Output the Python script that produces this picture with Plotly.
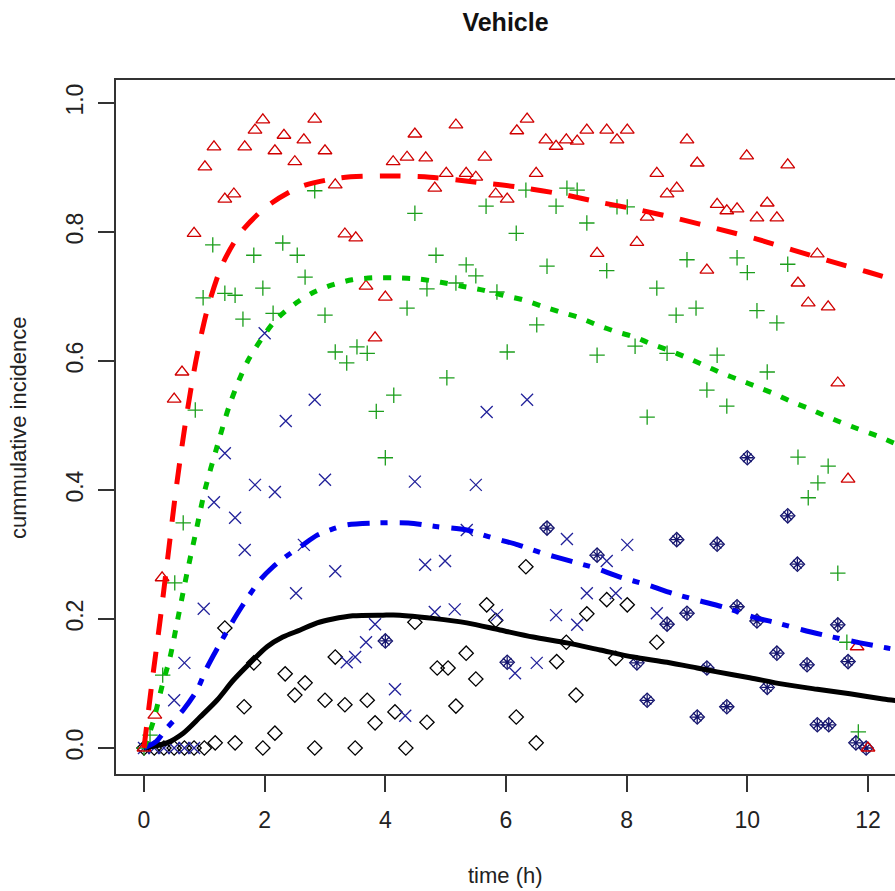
import plotly.graph_objects as go

# ---------------- data ----------------
red_t = [0.0, 0.18, 0.30, 0.50, 0.63, 0.83, 1.01, 1.16, 1.34, 1.49, 1.67, 1.84, 1.97,
         2.17, 2.32, 2.50, 2.65, 2.83, 3.00, 3.17, 3.33, 3.51, 3.68, 3.83, 4.00,
         4.13, 4.36, 4.49, 4.67, 4.82, 5.01, 5.17, 5.34, 5.50, 5.65, 5.83, 6.02,
         6.18, 6.35, 6.50, 6.66, 6.83, 7.00, 7.18, 7.34, 7.51, 7.67, 7.84, 8.01,
         8.17, 8.34, 8.50, 8.67, 8.83, 9.00, 9.17, 9.33, 9.50, 9.66, 9.83, 9.99,
         10.16, 10.33, 10.49, 10.67, 10.84, 11.01, 11.16, 11.34, 11.50, 11.67, 11.82, 12.0]
red_y = [0.0, 0.051, 0.264, 0.541, 0.583, 0.798, 0.901, 0.932, 0.851, 0.859, 0.932, 0.958, 0.974,
         0.926, 0.950, 0.909, 0.943, 0.975, 0.926, 0.873, 0.797, 0.791, 0.716, 0.636, 0.699,
         0.909, 0.916, 0.952, 0.915, 0.868, 0.891, 0.966, 0.891, 0.885, 0.916, 0.859, 0.851,
         0.957, 0.975, 0.891, 0.943, 0.933, 0.943, 0.941, 0.958, 0.767, 0.958, 0.943, 0.958,
         0.784, 0.823, 0.891, 0.859, 0.868, 0.943, 0.907, 0.741, 0.843, 0.833, 0.836, 0.918,
         0.822, 0.845, 0.822, 0.904, 0.721, 0.690, 0.766, 0.684, 0.566, 0.417, 0.157, 0.0]

green_t = [0.0, 0.10, 0.31, 0.51, 0.65, 0.85, 0.98, 1.14, 1.34, 1.51, 1.64, 1.82, 1.97,
           2.14, 2.30, 2.54, 2.67, 2.83, 3.00, 3.17, 3.36, 3.53, 3.70, 3.85, 4.00, 4.14,
           4.36, 4.49, 4.69, 4.84, 5.02, 5.17, 5.34, 5.50, 5.67, 5.85, 6.02, 6.17, 6.33,
           6.51, 6.68, 6.83, 7.01, 7.18, 7.34, 7.51, 7.67, 7.84, 8.01, 8.14, 8.34, 8.50,
           8.67, 8.82, 9.00, 9.15, 9.33, 9.50, 9.66, 9.83, 10.00, 10.16, 10.33, 10.49,
           10.67, 10.84, 11.01, 11.17, 11.34, 11.50, 11.65, 11.84]
green_y = [0.0, 0.02, 0.113, 0.256, 0.349, 0.524, 0.698, 0.78, 0.705, 0.702, 0.665, 0.764, 0.713,
           0.674, 0.783, 0.764, 0.73, 0.864, 0.671, 0.614, 0.597, 0.622, 0.612, 0.522, 0.45, 0.547,
           0.682, 0.829, 0.712, 0.764, 0.574, 0.721, 0.749, 0.732, 0.84, 0.707, 0.614, 0.798, 0.865,
           0.656, 0.747, 0.84, 0.868, 0.865, 0.814, 0.609, 0.74, 0.839, 0.839, 0.623, 0.513, 0.713,
           0.612, 0.671, 0.757, 0.682, 0.555, 0.609, 0.53, 0.76, 0.737, 0.678, 0.583, 0.659,
           0.75, 0.451, 0.388, 0.411, 0.437, 0.271, 0.164, 0.025]

blue_t = [0.0, 0.17, 0.33, 0.50, 0.67, 0.83, 0.50, 0.67, 0.99, 1.16, 1.34, 1.51, 1.67,
          1.84, 2.00, 2.17, 2.35, 2.52, 2.65, 2.83, 3.00, 3.17, 3.36, 3.50, 3.68, 3.83,
          4.16, 4.33, 4.49, 4.66, 4.82, 4.99, 5.15, 5.35, 5.50, 5.68, 5.85, 6.15, 6.35,
          6.51, 6.83, 7.01, 7.18, 7.34, 7.67, 7.82, 8.01, 8.50]
blue_y = [0.0, 0.0, 0.0, 0.0, 0.0, 0.0, 0.074, 0.132, 0.216, 0.381, 0.457, 0.357, 0.307,
          0.408, 0.643, 0.397, 0.507, 0.24, 0.315, 0.54, 0.416, 0.274, 0.133, 0.141, 0.164, 0.192,
          0.091, 0.05, 0.413, 0.284, 0.211, 0.29, 0.215, 0.338, 0.408, 0.521, 0.206, 0.116, 0.54,
          0.132, 0.206, 0.324, 0.191, 0.24, 0.29, 0.24, 0.315, 0.209]

black_t = [0.0, 0.17, 0.33, 0.50, 0.67, 0.83, 1.00, 1.18, 1.51, 1.34, 1.66, 1.82, 1.97,
           2.17, 2.34, 2.50, 2.67, 2.83, 3.00, 3.17, 3.33, 3.50, 3.70, 3.83, 4.16, 4.34,
           4.49, 4.69, 4.86, 5.04, 5.17, 5.34, 5.50, 5.68, 5.83, 6.17, 6.33, 6.50, 6.84,
           7.00, 7.16, 7.34, 7.67, 7.82, 8.01, 8.50]
black_y = [0.0, 0.0, 0.0, 0.0, 0.0, 0.0, 0.0, 0.008, 0.008, 0.186, 0.064, 0.132, 0.0,
           0.023, 0.115, 0.082, 0.101, 0.0, 0.074, 0.141, 0.067, 0.0, 0.074, 0.039, 0.056, 0.0,
           0.195, 0.04, 0.124, 0.124, 0.065, 0.147, 0.107, 0.222, 0.198, 0.048, 0.281, 0.008, 0.134,
           0.164, 0.082, 0.208, 0.23, 0.139, 0.222, 0.164]

# overlapping points (diamond + asterisk drawn in navy)
over_t = [4.00, 6.02, 6.68, 7.51, 8.17, 8.34, 8.67, 8.83, 9.00, 9.17, 9.33, 9.50, 9.66,
          9.83, 10.00, 10.16, 10.33, 10.49, 10.67, 10.83, 10.99, 11.16, 11.35, 11.50,
          11.67, 11.80, 11.97]
over_y = [0.166, 0.133, 0.341, 0.299, 0.132, 0.074, 0.192, 0.323, 0.209, 0.048, 0.124, 0.316,
          0.064, 0.219, 0.45, 0.197, 0.094, 0.147, 0.36, 0.285, 0.129, 0.036, 0.036, 0.191,
          0.134, 0.008, 0.0]

# fitted curves
red_fit_t = [0.0, 0.13, 0.27, 0.40, 0.53, 0.68, 0.86, 1.05, 1.30, 1.61, 2.04, 2.59, 3.25, 3.96,
             4.74, 5.52, 6.18, 6.85, 7.56, 8.22, 8.88, 9.51, 10.16, 10.76, 11.37, 12.0, 12.5]
red_fit_y = [0.0, 0.10, 0.20, 0.30, 0.40, 0.50, 0.60, 0.68, 0.75, 0.80, 0.84, 0.87, 0.884, 0.887,
             0.885, 0.877, 0.870, 0.860, 0.846, 0.834, 0.820, 0.805, 0.789, 0.772, 0.755, 0.738, 0.724]

green_fit_t = [0.0, 0.15, 0.31, 0.43, 0.56, 0.71, 0.86, 1.01, 1.21, 1.43, 1.72, 2.14, 2.34, 2.57,
               2.82, 3.12, 3.45, 3.80, 4.16, 4.57, 4.92, 5.27, 5.62, 5.95, 6.28, 6.60, 6.90, 7.19,
               7.51, 7.84, 8.14, 8.42, 8.69, 8.98, 9.27, 9.58, 9.86, 10.16, 10.43, 10.71, 11.00,
               11.27, 11.55, 11.83, 12.15, 12.5]
green_fit_y = [0.0, 0.04, 0.10, 0.14, 0.20, 0.27, 0.335, 0.40, 0.467, 0.535, 0.60, 0.659, 0.677, 0.693,
               0.707, 0.718, 0.726, 0.729, 0.729, 0.727, 0.722, 0.716, 0.710, 0.702, 0.695, 0.685, 0.676,
               0.668, 0.656, 0.645, 0.637, 0.626, 0.617, 0.606, 0.594, 0.581, 0.571, 0.560, 0.550, 0.538,
               0.527, 0.516, 0.505, 0.495, 0.484, 0.470]

blue_fit_t = [0.0, 0.20, 0.38, 0.65, 0.88, 1.04, 1.23, 1.43, 1.62, 1.92, 2.14, 2.34, 2.59, 2.87,
              3.08, 3.36, 3.86, 4.38, 4.87, 5.35, 5.77, 6.20, 6.61, 7.06, 7.48, 7.89, 8.34, 8.75,
              9.18, 9.66, 10.10, 10.49, 10.92, 11.42, 11.87, 12.32, 12.5]
blue_fit_y = [0.0, 0.01, 0.031, 0.059, 0.09, 0.124, 0.157, 0.19, 0.219, 0.26, 0.281, 0.296, 0.312,
              0.33, 0.338, 0.346, 0.349, 0.349, 0.343, 0.338, 0.326, 0.315, 0.302, 0.29, 0.279, 0.265,
              0.253, 0.24, 0.229, 0.217, 0.203, 0.194, 0.183, 0.172, 0.163, 0.155, 0.152]

black_fit_t = [0.0, 0.38, 0.65, 0.93, 1.21, 1.48, 1.76, 2.04, 2.30, 2.59, 2.87, 3.13, 3.46, 3.96,
               4.24, 4.79, 5.35, 5.90, 6.45, 7.01, 7.56, 8.11, 8.67, 9.17, 9.50, 10.04, 10.59,
               11.16, 11.70, 12.25, 12.5]
black_fit_y = [0.0, 0.008, 0.023, 0.048, 0.074, 0.105, 0.132, 0.157, 0.172, 0.183, 0.194, 0.20,
               0.205, 0.206, 0.206, 0.201, 0.194, 0.183, 0.172, 0.163, 0.152, 0.141, 0.133, 0.124,
               0.118, 0.109, 0.099, 0.091, 0.084, 0.076, 0.073]

x_ticks = [0, 2, 4, 6, 8, 10, 12]
y_ticks = [0.0, 0.2, 0.4, 0.6, 0.8, 1.0]
y_tick_text = ["0.0", "0.2", "0.4", "0.6", "0.8", "1.0"]

# ---------------- styles ----------------
RED_M, RED_L = "#d00000", "#ff0000"
GRN_M, GRN_L = "#1c9e1c", "#00c000"
BLU_M, BLU_L = "#22229a", "#0000ee"
NAVY = "#14146e"
FONT = "Liberation Sans, Arial, Helvetica, sans-serif"

fig = go.Figure()

def pts(x, y, symbol, color, size, lw=1.3):
    fig.add_trace(go.Scatter(x=x, y=y, mode="markers", showlegend=False,
                             marker=dict(symbol=symbol, size=size, color=color,
                                         line=dict(color=color, width=lw))))

pts(black_t, black_y, "diamond-open", "#000000", 11)
pts(over_t, over_y, "diamond-open", NAVY, 11)
pts(over_t, over_y, "asterisk-open", NAVY, 10)
pts(blue_t, blue_y, "x-thin-open", BLU_M, 12)
pts(green_t, green_y, "cross-thin-open", GRN_M, 11)
pts(red_t, red_y, "triangle-up-open", RED_M, 12)

def curve(x, y, color, dash, width=5):
    fig.add_trace(go.Scatter(x=x, y=y, mode="lines", showlegend=False,
                             line=dict(color=color, width=width, dash=dash,
                                       shape="spline", smoothing=0.8)))

curve(black_fit_t, black_fit_y, "#000000", "solid")
curve(blue_fit_t, blue_fit_y, BLU_L, "22px,11px,7px,12px")
curve(green_fit_t, green_fit_y, GRN_L, "8px,11px")
curve(red_fit_t, red_fit_y, RED_L, "21px,17px")

fig.update_layout(
    width=895, height=891,
    margin=dict(l=116, r=0, t=80, b=117),
    paper_bgcolor="white", plot_bgcolor="white",
    font=dict(family=FONT, size=23, color="#222222"),
    title=dict(text="<b>Vehicle</b>", x=0.5, xref="paper", xanchor="center",
               y=1 - 22 / 891, yref="container", yanchor="middle",
               font=dict(family=FONT, size=25, color="#111111")),
    xaxis=dict(range=[-0.464, 12.448], tickvals=x_ticks, showgrid=False, zeroline=False,
               showline=True, linewidth=2, linecolor="#333333", mirror=True,
               ticks="outside", ticklen=16, tickwidth=2, tickcolor="#333333",
               ticklabelstandoff=8, tickfont=dict(size=23, color="#222222")),
    yaxis=dict(range=[-0.0403, 1.0357], tickvals=y_ticks, ticktext=y_tick_text,
               showgrid=False, zeroline=False, tickangle=-90,
               showline=True, linewidth=2, linecolor="#333333", mirror=False,
               ticks="outside", ticklen=16, tickwidth=2, tickcolor="#333333",
               ticklabelstandoff=6, tickfont=dict(size=23, color="#222222")),
    annotations=[
        dict(text="time (h)", xref="paper", yref="paper", x=0.5, y=(774 - 876) / 694,
             xanchor="center", yanchor="middle", showarrow=False,
             font=dict(family=FONT, size=22, color="#222222")),
        dict(text="cummulative incidence", xref="paper", yref="paper",
             x=(18 - 116) / 779, y=(774 - 428) / 694, textangle=-90,
             xanchor="center", yanchor="middle", showarrow=False,
             font=dict(family=FONT, size=22, color="#222222")),
    ],
)

fig.write_html("out.html")
